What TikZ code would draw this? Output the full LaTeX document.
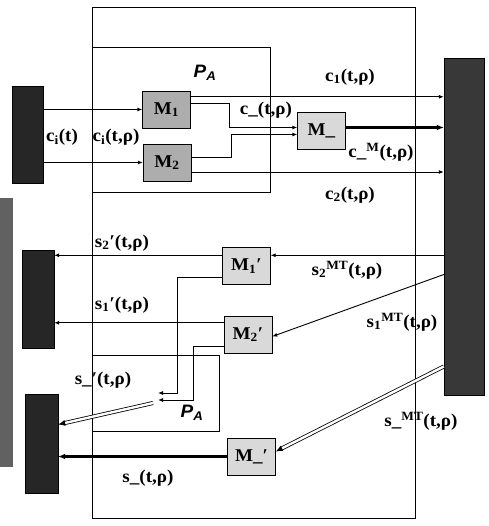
\documentclass[tikz,border=0pt]{standalone}
\usepackage{fontspec}
\setmainfont{Liberation Serif}[FakeStretch=1.06]
\newfontfamily\pafont{Liberation Sans}[FakeStretch=1.05]
\usepackage{tikz}
\usetikzlibrary{arrows.meta}
\newcommand{\trho}{(t,ρ)}
\newcommand{\lblfont}{\fontsize{18}{20}\selectfont\bfseries}

\begin{document}
\begin{tikzpicture}[x=1pt, y=-1pt,
    blk/.style={draw=black, fill=black!85, inner sep=0pt},
    mbox/.style={draw, fill=black!15, font=\lblfont, inner sep=0pt,
                 minimum width=48pt, minimum height=37pt},
    mdark/.style={mbox, fill=black!32},
    lbl/.style={font=\lblfont, inner sep=1pt},
    pa/.style={font=\fontsize{18}{20}\pafont\bfseries\itshape, inner sep=1pt},
    arr/.style={-{Latex[length=5pt,width=4pt]}, line width=0.9pt},
    fat/.style={-{Latex[length=7pt,width=6pt]}, line width=3.4pt},
    dbl/.style={-{Latex[length=7pt,width=6pt]}, double, double distance=2.4pt,
                line width=0.8pt}]
  \useasboundingbox (0,0) rectangle (488,526);

  % frames: the whole station and the two P_A areas
  \draw[line width=0.9pt] (92,7) rectangle (415,518);
  \draw[line width=0.9pt] (92,47) rectangle (270,192);
  \draw[line width=0.9pt] (92,355) rectangle (219,431);
  \node[pa] (paup) at (205,73) {P\textsubscript{A}};
  \node[pa] (palow) at (192,413) {P\textsubscript{A}};

  % dark blocks on both sides
  \fill[black!62] (0,198) rectangle (13,467);
  \node[blk, minimum width=31pt, minimum height=97pt] (blk1) at (27.5,134.5) {};
  \node[blk, minimum width=32pt, minimum height=98pt] (blk2) at (38,299) {};
  \node[blk, minimum width=33pt, minimum height=99pt] (blk3) at (41.5,443.5) {};
  \node[blk, fill=black!78, minimum width=40pt, minimum height=337pt] (blkR) at (464,226.5) {};

  % modules
  \node[mdark] (m1) at (166.5,109.5) {M\textsubscript{1}};
  \node[mdark] (m2) at (167,162.5) {M\textsubscript{2}};
  \node[mbox] (mm) at (321.5,130.5) {M\_};
  \node[mbox] (m1p) at (246.5,266) {M\textsubscript{1}′};
  \node[mbox] (m2p) at (248,334.5) {M\textsubscript{2}′};
  \node[mbox] (mmp) at (251.5,456.5) {M\_′};

  % upper half: splitting towards the right block
  \draw[arr] (blk1.east |- m1.west) -- (m1.west);
  \draw[arr] (blk1.east |- m2.west) -- (m2.west);
  \coordinate (c1s) at ([yshift=-6pt]m1.north east);
  \draw[arr] (c1s) -- (c1s -| blkR.west);
  \draw[arr] ([yshift=-13pt]m1.north east) -- ++(39,0) |- ([yshift=3pt]mm.west);
  \draw[arr] ([yshift=5pt]m2.east) -- ++(40,0) |- ([yshift=-4pt]mm.west);
  \coordinate (c2s) at ([yshift=-9.5pt]m2.east);
  \draw[arr] (c2s) -- (c2s -| blkR.west);
  \coordinate (cms) at ([yshift=3pt]mm.east);
  \draw[fat] (cms) -- (cms -| blkR.west);

  % lower half: back from the right block
  \coordinate (s2in) at ([yshift=-8pt]m1p.north east);
  \draw[arr] (s2in -| blkR.west) -- (s2in);
  \draw[arr] ([yshift=-48pt]blkR.west) -- ([yshift=-2pt]m2p.east);
  \draw[dbl] ([yshift=-140pt]blkR.west) -- ([yshift=5pt]mmp.east);
  \coordinate (s2o) at ([yshift=-8pt]m1p.north west);
  \draw[arr] (s2o) -- (s2o -| blk2.east);
  \coordinate (s1o) at ([yshift=-7pt]m2p.north west);
  \draw[arr] (s1o) -- (s1o -| blk2.east);
  \coordinate (mrgA) at (158,393);
  \coordinate (mrgB) at (158,400);
  \draw[arr] ([yshift=7pt]m1p.south west) -- ++(-45,0) |- (mrgA);
  \draw[arr] ([yshift=7pt]m2p.south west) -- ++(-30,0) |- (mrgB);
  \coordinate (dblS) at (153,403);
  \draw[dbl] (dblS) -- ([yshift=19pt]blk3.east);
  \draw[fat] (mmp.west) -- (mmp.west -| blk3.east);

  % signal names
  \node[lbl] (lci) at (62,137) {c\textsubscript{i}(t)};
  \node[lbl] (lcir) at (116,137) {c\textsubscript{i}\trho};
  \node[lbl] (lcu) at (266,110) {c\_\trho};
  \node[lbl] (lc1) at (350,77) {c\textsubscript{1}\trho};
  \node[lbl] (lcm) at (381,152) {c\_\textsuperscript{M}\trho};
  \node[lbl] (lc2) at (350,195) {c\textsubscript{2}\trho};
  \node[lbl] (ls2p) at (122,243) {s\textsubscript{2}′\trho};
  \node[lbl] (ls1p) at (122,305) {s\textsubscript{1}′\trho};
  \node[lbl] (ls2m) at (347,270) {s\textsubscript{2}\textsuperscript{MT}\trho};
  \node[lbl] (ls1m) at (402,322) {s\textsubscript{1}\textsuperscript{MT}\trho};
  \node[lbl] (lsup) at (103,380) {s\_′\trho};
  \node[lbl] (lsu) at (148,478) {s\_\trho};
  \node[lbl] (lsm) at (421,421) {s\_\textsuperscript{MT}\trho};
\end{tikzpicture}
\end{document}
